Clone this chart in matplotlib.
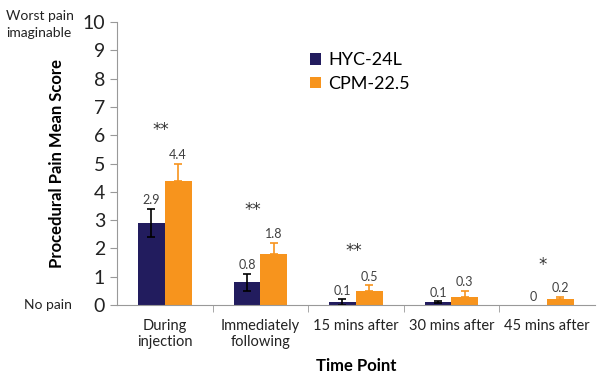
import numpy as np
import matplotlib
matplotlib.use("Agg")
import matplotlib.pyplot as plt

plt.rcParams['font.family'] = ['Lato', 'DejaVu Sans']

# datos de dolor por punto temporal
puntos = ["During\ninjection", "Immediately\nfollowing", "15 mins after", "30 mins after", "45 mins after"]
hyc = [2.9, 0.8, 0.1, 0.1, 0.0]
hyc_err = [0.5, 0.3, 0.1, 0.03, 0.0]
cpm = [4.4, 1.8, 0.5, 0.3, 0.2]
cpm_err = [0.6, 0.4, 0.2, 0.2, 0.1]
signif = ["**", "**", "**", "", "*"]
signif_y = [6.2, 3.35, 1.9, 0, 1.4]

c_hyc = "#221c5e"
c_cpm = "#f7941d"

fig = plt.figure(figsize=(5.97, 3.73), dpi=100)
ax = fig.add_axes([0.196, 0.182, 0.80, 0.759])

x = np.arange(len(puntos))
ancho = 0.28
ax.bar(x - ancho / 2, hyc, ancho, color=c_hyc, label="HYC-24L")
ax.bar(x + ancho / 2, cpm, ancho, color=c_cpm, label="CPM-22.5")

# barras de error (HYC ambos lados, CPM solo hacia arriba)
for i in range(len(puntos)):
    if hyc_err[i] > 0:
        ax.errorbar(x[i] - ancho / 2, hyc[i], yerr=hyc_err[i], fmt="none",
                    ecolor="black", elinewidth=1.2, capsize=3, capthick=1.2)
    ax.errorbar(x[i] + ancho / 2, cpm[i], yerr=[[0], [cpm_err[i]]], fmt="none",
                ecolor=c_cpm, elinewidth=1.2, capsize=3, capthick=1.2)

# etiquetas de valor
for i in range(len(puntos)):
    ax.text(x[i] - ancho / 2, hyc[i] + hyc_err[i] + 0.3, f"{hyc[i]:g}",
            ha="center", va="center", fontsize=9, color="#404040")
    ax.text(x[i] + ancho / 2, cpm[i] + cpm_err[i] + 0.3, f"{cpm[i]:g}",
            ha="center", va="center", fontsize=9, color="#404040")

# asteriscos de significancia
desplaz = [-0.04, -0.08, -0.02, 0, -0.04]
for i in range(len(puntos)):
    if signif[i]:
        ax.text(x[i] + desplaz[i], signif_y[i], signif[i], ha="center", va="center",
                fontsize=12, color="#333333", family="DejaVu Sans")

ax.set_xlim(-0.5, len(puntos) - 0.5)
ax.set_ylim(0, 10)
ax.set_yticks(range(0, 11))
ax.tick_params(axis="y", labelsize=14, length=5, color="#999999", labelcolor="#222222")
ax.set_xticks(x)
ax.set_xticklabels(puntos, fontsize=10.5, color="#222222")
ax.tick_params(axis="x", which="major", length=0, pad=10)
ax.set_xticks(np.arange(0.5, len(puntos) - 0.5, 1), minor=True)
ax.tick_params(axis="x", which="minor", length=5, color="#999999")

for lado in ["top", "right"]:
    ax.spines[lado].set_visible(False)
for lado in ["left", "bottom"]:
    ax.spines[lado].set_color("#999999")

ax.set_ylabel("Procedural Pain Mean Score", fontsize=12, fontweight="bold", labelpad=13)
ax.set_xlabel("Time Point", fontsize=12, fontweight="bold", labelpad=6)

fig.text(0.01, 0.935, "Worst pain\nimaginable", fontsize=10, color="#222222", va="center",
         ha="left", linespacing=1.5)
fig.text(0.04, 0.182, "No pain", fontsize=10, color="#222222", va="center", ha="left")

ax.legend(loc="upper left", bbox_to_anchor=(0.37, 0.95), frameon=False, fontsize=13,
          handlelength=0.6, handleheight=0.6, handletextpad=0.4, labelspacing=0.4)

plt.savefig("out.png", dpi=100)
